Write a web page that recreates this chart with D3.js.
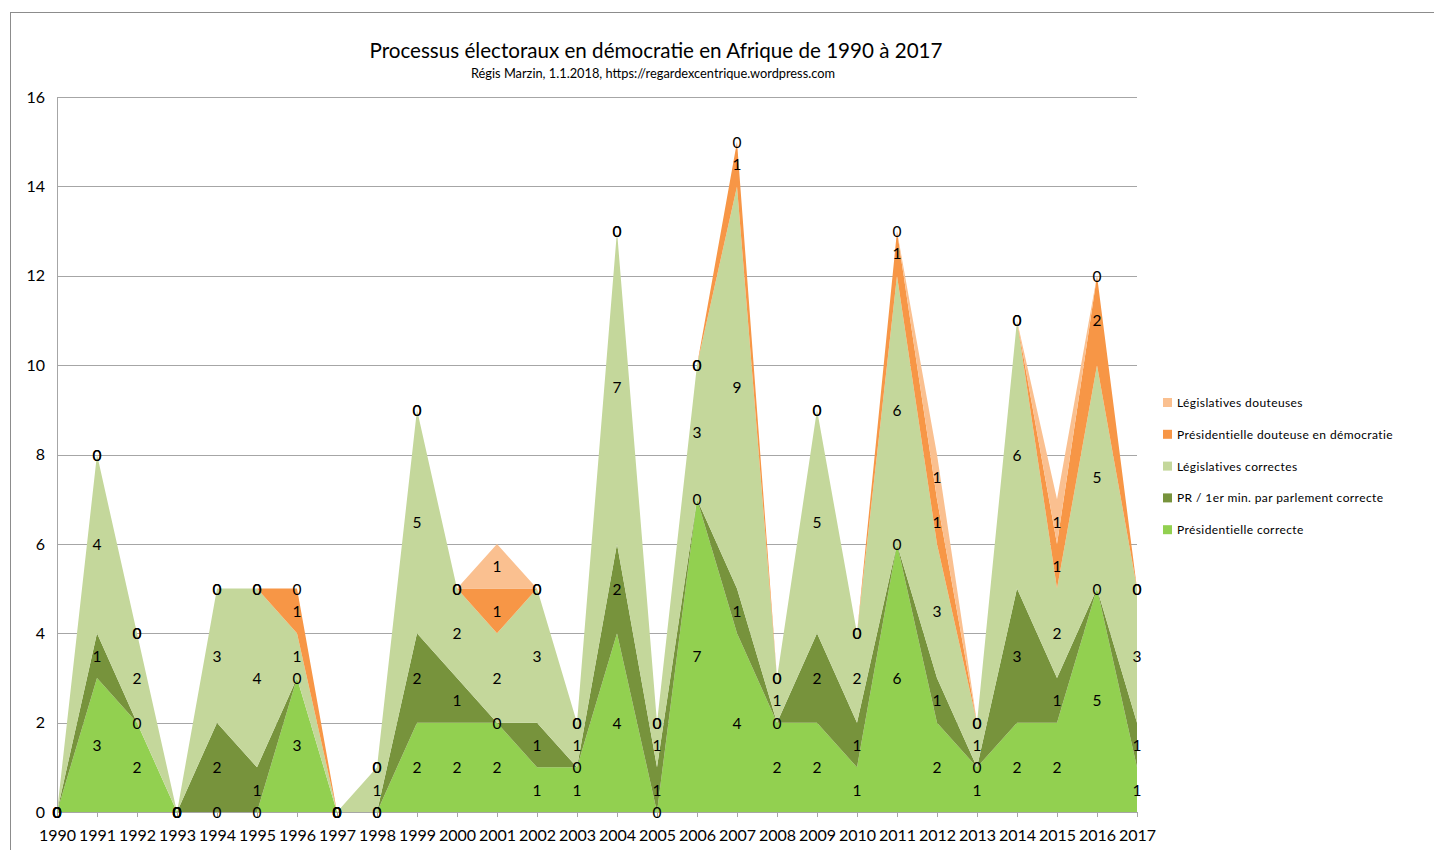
<!DOCTYPE html>
<html>
<head>
<meta charset="utf-8">
<script src="https://cdn.jsdelivr.net/npm/d3@7"></script>
<style>
  body { margin: 0; background: #fff; }
  svg { font-family: Lato, "Open Sans", sans-serif; }
</style>
</head>
<body>
<svg id="chart" width="1434" height="850"></svg>
<script>
// years on the x axis
var years = d3.range(1990, 2018).map(String);

// series, bottom to top of the stack
var presCorrecte   = [0,3,2,0,0,0,3,0,0,2,2,2,1,1,4,0,7,4,2,2,1,6,2,1,2,2,5,1];
var prParlement    = [0,1,0,0,2,1,0,0,0,2,1,0,1,0,2,1,0,1,0,2,1,0,1,0,3,1,0,1];
var legisCorrectes = [0,4,2,0,3,4,1,0,1,5,2,2,3,1,7,1,3,9,1,5,2,6,3,1,6,2,5,3];
var presDouteuse   = [0,0,0,0,0,0,1,0,0,0,0,1,0,0,0,0,0,1,0,0,0,1,1,0,0,1,2,0];
var legisDouteuses = [0,0,0,0,0,0,0,0,0,0,0,1,0,0,0,0,0,0,0,0,0,0,1,0,0,1,0,0];

var seriesNames = ["Présidentielle correcte", "PR / 1er min. par parlement correcte",
  "Législatives correctes", "Présidentielle douteuse en démocratie", "Législatives douteuses"];
var seriesValues = [presCorrecte, prParlement, legisCorrectes, presDouteuse, legisDouteuses];
var colors = ["#92D050", "#77933C", "#C4D79B", "#F79646", "#FAC090"];
var yTicks = [0, 2, 4, 6, 8, 10, 12, 14, 16];

var rows = years.map(function (y, i) {
  var r = { year: y };
  seriesNames.forEach(function (n, k) { r[n] = seriesValues[k][i]; });
  return r;
});

var svg = d3.select("#chart");

var x = d3.scalePoint().domain(years).range([57, 1137]);
var y = d3.scaleLinear().domain([0, 16]).range([812, 97]);

// chart frame
svg.append("line").attr("x1", 10).attr("x2", 1434).attr("y1", 12.5).attr("y2", 12.5)
  .attr("stroke", "#8c8c8c");
svg.append("line").attr("x1", 10.5).attr("x2", 10.5).attr("y1", 12).attr("y2", 850)
  .attr("stroke", "#8c8c8c");

// titles
svg.append("text").attr("x", 656).attr("y", 58).attr("text-anchor", "middle")
  .style("font-size", "20.6px").text("Processus électoraux en démocratie en Afrique de 1990 à 2017");
svg.append("text").attr("x", 653).attr("y", 78).attr("text-anchor", "middle")
  .style("font-size", "12.8px").text("Régis Marzin, 1.1.2018, https://regardexcentrique.wordpress.com");

// gridlines
svg.append("g").selectAll("line").data(yTicks.slice(1)).enter().append("line")
  .attr("x1", 57).attr("x2", 1137)
  .attr("y1", function (d) { return Math.round(y(d)) + 0.5; })
  .attr("y2", function (d) { return Math.round(y(d)) + 0.5; })
  .attr("stroke", "#a6a6a6").attr("stroke-width", 1.2);

// stacked areas
var stack = d3.stack().keys(seriesNames);
var layers = stack(rows);

var area = d3.area()
  .x(function (d) { return x(d.data.year); })
  .y0(function (d) { return y(d[0]); })
  .y1(function (d) { return y(d[1]); });

svg.append("g").selectAll("path").data(layers).enter().append("path")
  .attr("d", area)
  .attr("fill", function (d, i) { return colors[i]; });

// axes
var yAxis = d3.axisLeft(y).tickValues(yTicks).tickSize(0).tickPadding(12);
var gy = svg.append("g").attr("transform", "translate(57,0)").call(yAxis);
gy.select(".domain").attr("stroke", "#a6a6a6");
gy.selectAll("text").style("font-size", "16px").style("font-family", "Lato, sans-serif")
  .attr("fill", "#000");

var xAxis = d3.axisBottom(x).tickSize(5).tickPadding(13).tickSizeOuter(0);
var gx = svg.append("g").attr("transform", "translate(0,812)").call(xAxis);
gx.select(".domain").attr("stroke", "#a6a6a6");
gx.selectAll(".tick line").attr("stroke", "#a6a6a6");
gx.selectAll("text").style("font-size", "16px").style("font-family", "Lato, sans-serif")
  .attr("fill", "#000");

// data labels, centred in each band
var labels = svg.append("g").style("font-size", "15.5px").attr("text-anchor", "middle");
layers.forEach(function (layer) {
  labels.selectAll(null).data(layer).enter().append("text")
    .attr("x", function (d) { return x(d.data.year); })
    .attr("y", function (d) { return y((d[0] + d[1]) / 2) + 6; })
    .text(function (d) { return d[1] - d[0]; });
});

// legend (top item first, as in the stack)
var legend = svg.append("g").style("font-size", "12px").style("letter-spacing", "0.4px");
var legendOrder = [4, 3, 2, 1, 0];
legendOrder.forEach(function (k, i) {
  var ly = 403 + i * 31.8;
  legend.append("rect").attr("x", 1163).attr("y", ly - 5).attr("width", 9).attr("height", 9)
    .attr("fill", colors[k]);
  legend.append("text").attr("x", 1177).attr("y", ly + 4).text(seriesNames[k]);
});
</script>
</body>
</html>
